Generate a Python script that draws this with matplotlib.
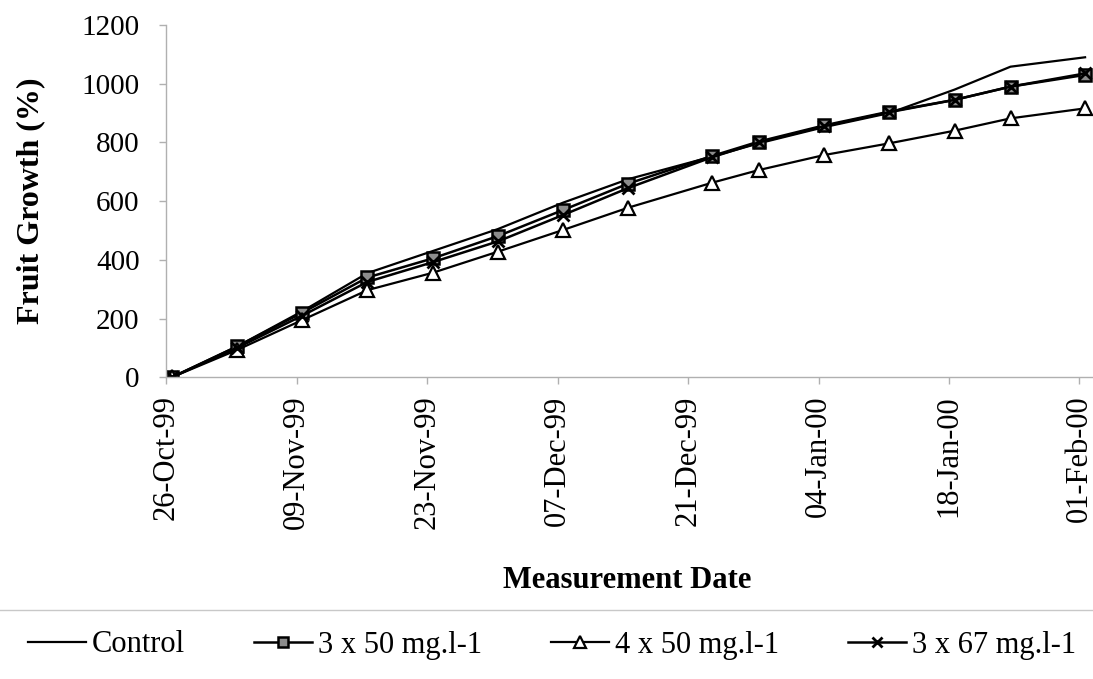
import numpy as np
import matplotlib
matplotlib.use("Agg")
import matplotlib.pyplot as plt
import matplotlib.dates as mdates
from matplotlib.lines import Line2D

plt.rcParams['font.family'] = ['Liberation Serif', 'DejaVu Serif']

dates = np.array(['1999-10-26', '1999-11-02', '1999-11-09', '1999-11-16', '1999-11-23',
                  '1999-11-30', '1999-12-07', '1999-12-14', '1999-12-23', '1999-12-28',
                  '2000-01-04', '2000-01-11', '2000-01-18', '2000-01-24', '2000-02-01'],
                 dtype='datetime64[D]')
control = [0, 105, 225, 355, 430, 505, 595, 675, 752, 797, 852, 900, 980, 1058, 1090]
t3x50 = [0, 105, 220, 340, 405, 481, 570, 660, 754, 803, 858, 905, 945, 990, 1030]
t4x50 = [0, 93, 195, 297, 356, 428, 502, 578, 663, 706, 757, 797, 840, 882, 916]
t3x67 = [0, 100, 210, 325, 392, 463, 553, 645, 750, 800, 855, 903, 945, 990, 1035]
tick_dates = np.arange(np.datetime64('1999-10-26'), np.datetime64('2000-02-02'), 14)

x = mdates.date2num(dates.astype('datetime64[s]').astype(object))
xt = mdates.date2num(tick_dates.astype('datetime64[s]').astype(object))

fig = plt.figure(figsize=(10.93, 6.79), dpi=100)
ax = fig.add_axes([0.152, 0.4443, 0.848, 0.5189])

ax.plot(x, control, color='black', lw=1.6, label='Control')
ax.plot(x, t3x50, color='black', lw=1.8, marker='s', ms=9, mfc='#8c8c8c', mec='black',
        mew=1.8, label='3 x 50 mg.l-1')
ax.plot(x, t4x50, color='black', lw=1.6, marker='^', ms=10, mfc='white', mec='black',
        mew=1.6, label='4 x 50 mg.l-1')
ax.plot(x, t3x67, color='black', lw=1.8, marker='x', ms=9, mec='black', mew=2.0,
        label='3 x 67 mg.l-1')

ax.set_xlim(x[0] - 0.43, x[0] + 98.85)
ax.set_ylim(0, 1200)
ax.set_yticks(np.arange(0, 1201, 200))
ax.set_xticks(xt - 0.6)
ax.set_xticklabels([mdates.num2date(v).strftime('%d-%b-%y') for v in xt], rotation=90)

for s in ['top', 'right']:
    ax.spines[s].set_visible(False)
for s in ['left', 'bottom']:
    ax.spines[s].set_color('#b0b0b0')
    ax.spines[s].set_linewidth(1.0)
ax.tick_params(axis='both', colors='#b0b0b0', labelcolor='black',
               length=5, width=1.0, direction='out')
ax.tick_params(axis='y', pad=14, labelsize=21)
ax.tick_params(axis='x', pad=8, labelsize=22)

ax.set_ylabel('Fruit Growth (%)', fontsize=23, fontweight='bold')
ax.yaxis.set_label_coords(-0.13, 0.5)
ax.set_xlabel('Measurement Date', fontsize=22, fontweight='bold')
ax.xaxis.set_label_coords(0.497, -0.535)

fig.add_artist(Line2D([0, 1], [1 - 610 / 679, 1 - 610 / 679], color='#c8c8c8', lw=1.0))

handles, labels = ax.get_legend_handles_labels()
fig.legend(handles, labels, loc='center', bbox_to_anchor=(0.505, 1 - 645 / 679), ncol=4,
           frameon=False, fontsize=22, handlelength=1.9, handletextpad=0.2,
           columnspacing=2.25, markerscale=0.8)

fig.savefig('out.png', dpi=100)
